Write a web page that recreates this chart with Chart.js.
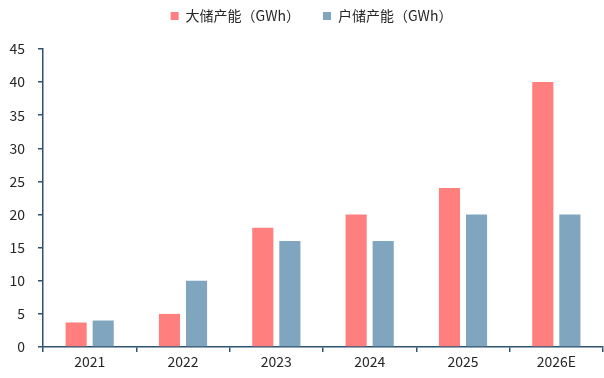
<!DOCTYPE html>
<html>
<head>
<meta charset="utf-8">
<script src="https://cdn.jsdelivr.net/npm/chart.js@4"></script>
<style>
  html, body { margin: 0; padding: 0; background: #fff; }
  #wrap { width: 604px; height: 378px; position: relative; }
</style>
</head>
<body>
<div id="wrap"><canvas id="c"></canvas></div>
<script>
// Energy storage capacity by year (GWh)
const years = ['2021', '2022', '2023', '2024', '2025', '2026E'];
const largeStorage = [3.7, 5, 18, 20, 24, 40];     // 大储产能
const householdStorage = [4.0, 10, 16, 16, 20, 20]; // 户储产能
const yTicks = [0, 5, 10, 15, 20, 25, 30, 35, 40, 45];

const axisColor = '#2e5370';
const textColor = '#262626';
const fontFamily = '"Noto Sans CJK SC", "Noto Sans", sans-serif';

// Adds extra space below the legend row and nudges it a little to the right
const legendSpacer = {
  id: 'legendSpacer',
  afterInit(chart) {
    const legend = chart.legend;
    if (!legend) return;
    const fit = legend.fit;
    legend.fit = function () {
      fit.call(this);
      this.height += 16;
    };
  },
  afterLayout(chart) {
    if (!chart.legend) return;
    chart.legend.left += 10;
    chart.legend.right += 10;
  }
};

new Chart(document.getElementById('c'), {
  type: 'bar',
  data: {
    labels: years,
    datasets: [
      { label: '大储产能（GWh）', data: largeStorage, backgroundColor: '#ff7f7f',
        categoryPercentage: 0.58, barPercentage: 0.78 },
      { label: '户储产能（GWh）', data: householdStorage, backgroundColor: '#7fa5bf',
        categoryPercentage: 0.58, barPercentage: 0.78 }
    ]
  },
  plugins: [legendSpacer],
  options: {
    responsive: true,
    maintainAspectRatio: false,
    animation: false,
    devicePixelRatio: 1,
    layout: { padding: { left: 0, right: 1, top: -14, bottom: 0 } },
    plugins: {
      legend: {
        position: 'top',
        labels: {
          boxWidth: 8, boxHeight: 8, padding: 23,
          color: textColor,
          font: { family: fontFamily, size: 14 }
        }
      },
      tooltip: { enabled: false }
    },
    scales: {
      x: {
        offset: true,
        grid: { display: true, offset: true, drawOnChartArea: false, drawTicks: true,
                tickLength: 5, color: axisColor, lineWidth: 1.5 },
        border: { color: axisColor, width: 1.5 },
        ticks: { color: textColor, font: { family: fontFamily, size: 14 }, padding: 1 },
        afterFit: (s) => { s.height = 31; }
      },
      y: {
        min: 0, max: 45,
        afterBuildTicks: (s) => { s.ticks = yTicks.map(v => ({ value: v })); },
        grid: { display: true, drawOnChartArea: false, drawTicks: true,
                tickLength: 5, color: axisColor, lineWidth: 1.5 },
        border: { color: axisColor, width: 1.5 },
        ticks: { color: textColor, font: { family: fontFamily, size: 14 }, padding: 13 },
        afterFit: (s) => { s.width = 43; }
      }
    }
  }
});
</script>
</body>
</html>
